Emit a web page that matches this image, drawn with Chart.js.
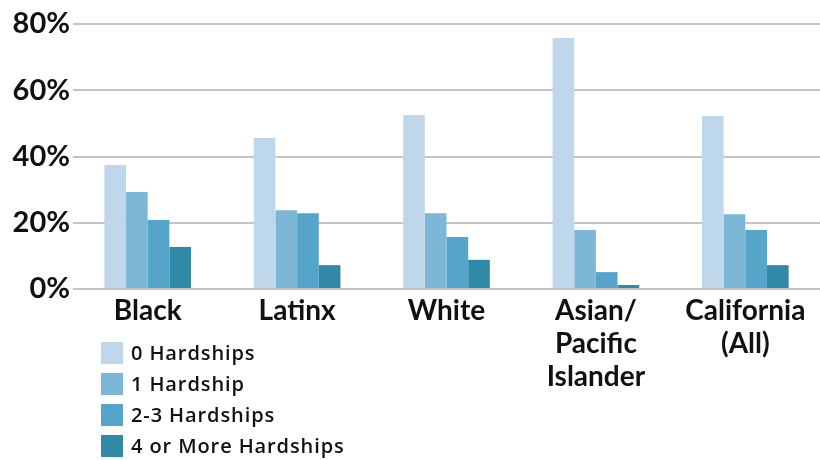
<!DOCTYPE html>
<html>
<head>
<meta charset="utf-8">
<script src="https://cdn.jsdelivr.net/npm/chart.js@4/dist/chart.umd.min.js"></script>
<style>
  html, body { margin: 0; padding: 0; background: #fff; }
  #wrap { position: relative; width: 820px; height: 460px; }
  #legend { position: absolute; left: 101px; top: 337px; font-family: "Open Sans", sans-serif; font-weight: 600; font-size: 20px; letter-spacing: 0.9px; color: #111; }
  .row { display: flex; align-items: center; height: 31px; }
  .box { width: 22px; height: 22px; margin-right: 8px; }
</style>
</head>
<body>
<div id="wrap">
  <canvas id="c" width="820" height="460"></canvas>
  <div id="legend"></div>
</div>
<script>
const categories = [["Black"], ["Latinx"], ["White"], ["Asian/", "Pacific", "Islander"], ["California", "(All)"]];
const seriesNames = ["0 Hardships", "1 Hardship", "2-3 Hardships", "4 or More Hardships"];
const hardship0 = [37.4, 45.6, 52.5, 75.8, 52.2];
const hardship1 = [29.3, 23.8, 22.9, 17.8, 22.6];
const hardship23 = [20.8, 22.9, 15.7, 5.1, 17.8];
const hardship4plus = [12.7, 7.2, 8.8, 1.2, 7.2];
const yTicks = [0, 20, 40, 60, 80];
const colors = ["#bfd7ea", "#7db7d8", "#55a4ca", "#2f89a7"];

const seriesValues = [hardship0, hardship1, hardship23, hardship4plus];

const legendEl = document.getElementById('legend');
seriesNames.forEach((n, i) => {
  const r = document.createElement('div'); r.className = 'row';
  const b = document.createElement('div'); b.className = 'box'; b.style.background = colors[i];
  const t = document.createElement('span'); t.textContent = n;
  r.appendChild(b); r.appendChild(t); legendEl.appendChild(r);
});

new Chart(document.getElementById('c'), {
  type: 'bar',
  data: {
    labels: categories,
    datasets: seriesNames.map((n, i) => ({
      label: n,
      data: seriesValues[i],
      backgroundColor: colors[i],
      borderWidth: 0,
      barPercentage: 1.0,
      categoryPercentage: 0.58
    }))
  },
  options: {
    responsive: false,
    animation: false,
    layout: { padding: { top: 24, right: 0, bottom: 0, left: 0 } },
    plugins: { legend: { display: false }, tooltip: { enabled: false } },
    scales: {
      x: {
        grid: { display: false, drawTicks: false },
        border: { display: false },
        ticks: {
          color: '#111',
          font: { family: 'Lato', size: 28, weight: 'bold', lineHeight: 1.18 },
          padding: 5,
          maxRotation: 0,
          autoSkip: false
        },
        afterFit: (s) => { s.height = 171; }
      },
      y: {
        min: 0, max: 80,
        afterBuildTicks: (s) => { s.ticks = yTicks.map(v => ({ value: v })); },
        grid: { color: '#c4c4c4', lineWidth: 2, drawTicks: false },
        border: { display: false },
        ticks: {
          color: '#111',
          font: { family: 'Lato', size: 29, weight: 'bold' },
          padding: 3,
          callback: (v) => v + '%'
        },
        afterFit: (s) => { s.width = 73; }
      }
    }
  }
});
</script>
</body>
</html>
